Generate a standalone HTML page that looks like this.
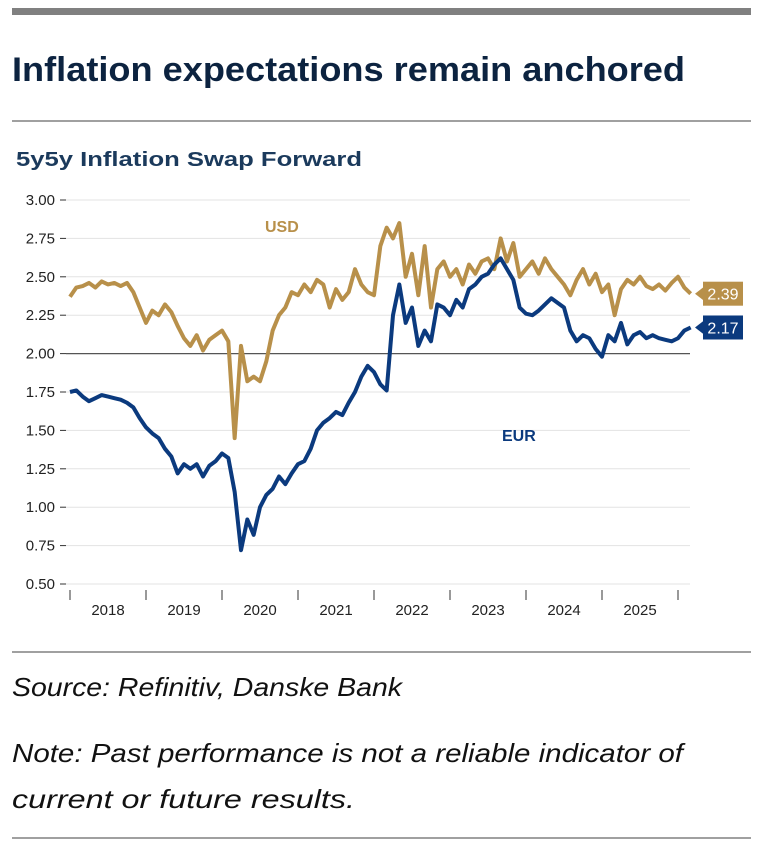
<!DOCTYPE html>
<html><head><meta charset="utf-8"><style>
body{margin:0;background:#fff;width:769px;height:852px;overflow:hidden;font-family:"Liberation Sans",sans-serif}
</style></head><body>
<svg width="769" height="852" xmlns="http://www.w3.org/2000/svg">
<rect x="12" y="8" width="739" height="7" fill="#808080"/>
<text x="12" y="81" font-size="34" font-weight="bold" fill="#0c2340" textLength="673" lengthAdjust="spacingAndGlyphs">Inflation expectations remain anchored</text>
<line x1="12" y1="121" x2="751" y2="121" stroke="#808080" stroke-width="1.5"/>
<text x="16" y="166" font-size="20" font-weight="bold" fill="#1b3a5c" textLength="346" lengthAdjust="spacingAndGlyphs">5y5y Inflation Swap Forward</text>
<g id="grid"></g><g id="axes"></g><g id="series"></g>
<line x1="12" y1="652" x2="751" y2="652" stroke="#808080" stroke-width="1.5"/>
<text x="12" y="696" font-size="26" font-style="italic" fill="#111" textLength="390" lengthAdjust="spacingAndGlyphs">Source: Refinitiv, Danske Bank</text>
<text x="12" y="762" font-size="26" font-style="italic" fill="#111" textLength="671" lengthAdjust="spacingAndGlyphs">Note: Past performance is not a reliable indicator of</text>
<text x="12" y="808" font-size="26" font-style="italic" fill="#111" textLength="343" lengthAdjust="spacingAndGlyphs">current or future results.</text>
<line x1="12" y1="838" x2="751" y2="838" stroke="#808080" stroke-width="1.5"/>
</svg>
<script>
const yTicks=[3.00,2.75,2.50,2.25,2.00,1.75,1.50,1.25,1.00,0.75,0.50];
const years=["2018","2019","2020","2021","2022","2023","2024","2025"];
const usd=[2.37,2.43,2.44,2.46,2.43,2.47,2.45,2.46,2.44,2.46,2.40,2.30,2.20,2.28,2.25,2.32,2.27,2.18,2.10,2.05,2.12,2.02,2.09,2.12,2.15,2.08,1.45,2.05,1.82,1.85,1.82,1.95,2.15,2.25,2.30,2.40,2.38,2.45,2.40,2.48,2.45,2.30,2.42,2.35,2.40,2.55,2.45,2.40,2.38,2.70,2.82,2.75,2.85,2.50,2.65,2.38,2.70,2.30,2.55,2.60,2.50,2.55,2.45,2.58,2.52,2.60,2.62,2.55,2.75,2.60,2.72,2.50,2.55,2.60,2.52,2.62,2.55,2.50,2.45,2.38,2.48,2.55,2.45,2.52,2.40,2.45,2.25,2.42,2.48,2.45,2.50,2.44,2.42,2.45,2.41,2.46,2.50,2.43,2.39];
const eur=[1.75,1.76,1.72,1.69,1.71,1.73,1.72,1.71,1.70,1.68,1.65,1.58,1.52,1.48,1.45,1.38,1.33,1.22,1.28,1.25,1.28,1.20,1.27,1.30,1.35,1.32,1.10,0.72,0.92,0.82,1.00,1.08,1.12,1.20,1.15,1.22,1.28,1.30,1.38,1.50,1.55,1.58,1.62,1.60,1.68,1.75,1.85,1.92,1.88,1.80,1.76,2.25,2.45,2.20,2.30,2.05,2.15,2.08,2.32,2.30,2.25,2.35,2.30,2.42,2.45,2.50,2.52,2.58,2.62,2.55,2.48,2.30,2.26,2.25,2.28,2.32,2.36,2.33,2.30,2.15,2.08,2.12,2.10,2.03,1.98,2.12,2.08,2.20,2.06,2.12,2.14,2.10,2.12,2.10,2.09,2.08,2.10,2.15,2.17];
const NS="http://www.w3.org/2000/svg";
const y=v=>200+(3-v)*153.6;
const x=i=>70+i*76/12;
function mk(p,t,a){const e=document.createElementNS(NS,t);for(const k in a)e.setAttribute(k,a[k]);p.appendChild(e);return e;}
const g=document.getElementById('grid'),ax=document.getElementById('axes'),s=document.getElementById('series');
yTicks.forEach(v=>{
 const l=mk(g,'line',{x1:66,x2:690,y1:y(v),y2:y(v),stroke:v===2?'#555':'#e3e3e3','stroke-width':v===2?1.3:1});
 
 
 const tk=mk(ax,'line',{x1:60,x2:66,y1:y(v),y2:y(v),stroke:'#333','stroke-width':1});
 
 
 const t=mk(ax,'text',{x:55,y:y(v)+5,'text-anchor':'end','font-size':15,fill:'#222'});t.textContent=v.toFixed(2);
 
 
});
years.forEach((yr,i)=>{
 const tk=mk(ax,'line',{x1:70+i*76,x2:70+i*76,y1:590,y2:600,stroke:'#333','stroke-width':1});
 
 
 const t=mk(ax,'text',{x:108+i*76,y:615,'text-anchor':'middle','font-size':15,fill:'#222'});t.textContent=yr;
 
 
});
const tk8=mk(ax,'line',{x1:678,x2:678,y1:590,y2:600,stroke:'#333'});


function line(arr,col,name){
 const p=mk(s,'polyline',{points:arr.map((v,i)=>x(i)+','+y(v)).join(' '),fill:'none',stroke:col,'stroke-width':4,'stroke-linejoin':'round'});
 
 
}
line(usd,'#b8904a','usd-line');
line(eur,'#0b3a7e','eur-line');
function tag(v,col,name){
 const yy=y(v);
 const gg=mk(s,'g',{});
 
 
 mk(gg,'polygon',{points:`695,${yy} 704,${yy-7} 704,${yy+7}`,fill:col});
 mk(gg,'rect',{x:703,y:yy-12,width:40,height:24,fill:col});
 const t=mk(gg,'text',{x:723,y:yy+6,'text-anchor':'middle','font-size':16,fill:'#fff'});t.textContent=v.toFixed(2);
}
tag(usd[usd.length-1],'#b8904a','usd-last-value');
tag(eur[eur.length-1],'#0b3a7e','eur-last-value');
const l1=mk(s,'text',{x:265,y:232,'font-size':16,'font-weight':'bold',fill:'#b8904a'});l1.textContent='USD';


const l2=mk(s,'text',{x:502,y:441,'font-size':16,'font-weight':'bold',fill:'#0b3a7e'});l2.textContent='EUR';


</script>
</body></html>
